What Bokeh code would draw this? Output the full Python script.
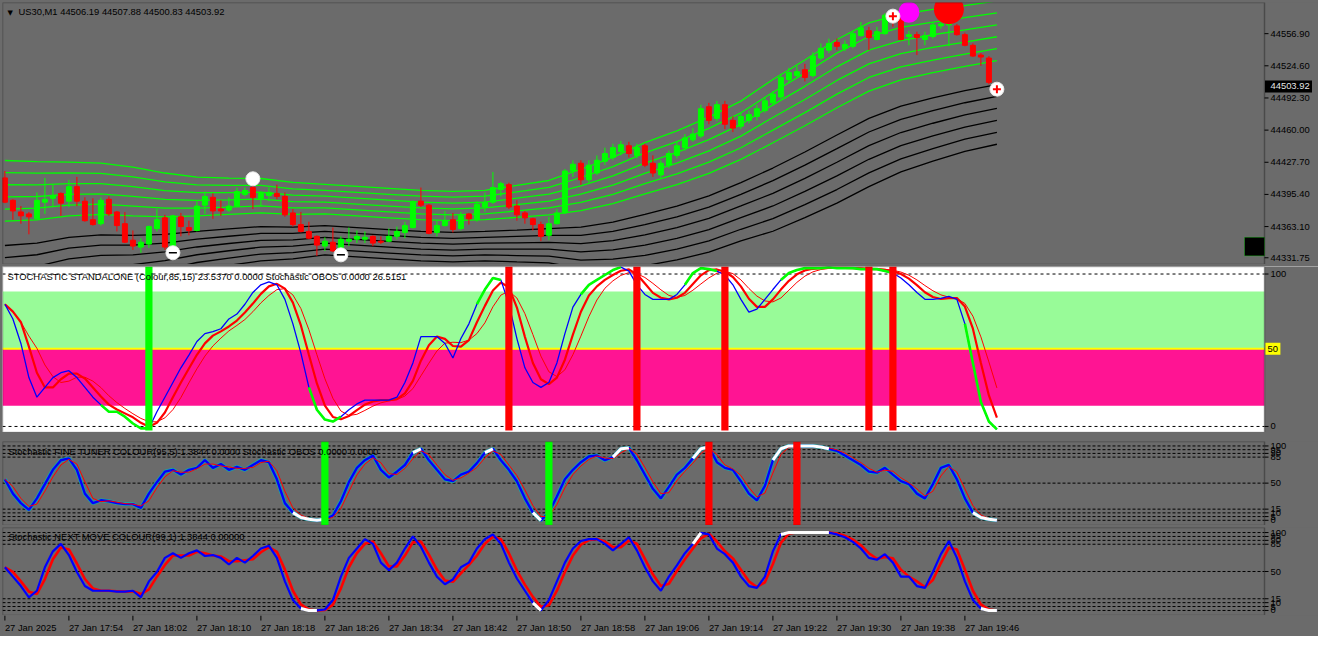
import numpy as np
from bokeh.plotting import figure
from bokeh.layouts import column
from bokeh.models import Range1d, Label, BoxAnnotation
from bokeh.core.properties import value
from bokeh.embed import file_html
from bokeh.resources import INLINE

# ---------------- data ----------------
open_p = [44412.0, 44389.5, 44377.8, 44375.8, 44370.9, 44387.6, 44391.5, 44396.4, 44388.6, 44403.2,
          44388.6, 44370.0, 44366.0, 44390.5, 44377.8, 44366.0, 44349.4, 44342.5, 44345.5, 44361.1,
          44371.9, 44343.5, 44372.9, 44362.1, 44359.2, 44384.6, 44392.5, 44380.7, 44379.7, 44383.7,
          44395.4, 44402.3, 44391.5, 44394.4, 44396.4, 44393.4, 44376.8, 44365.1, 44358.2, 44353.3,
          44343.5, 44347.4, 44339.6, 44348.4, 44350.4, 44350.4, 44353.3, 44348.4, 44348.4, 44353.3,
          44357.2, 44362.1, 44388.6, 44384.6, 44357.2, 44364.1, 44370.0, 44361.1, 44375.8, 44370.0,
          44382.7, 44387.6, 44400.3, 44405.2, 44383.7, 44376.8, 44370.9, 44365.1, 44354.3, 44366.0,
          44376.8, 44418.9, 44426.7, 44410.1, 44416.9, 44428.7, 44432.6, 44438.5, 44444.3, 44434.6,
          44444.3, 44426.7, 44415.0, 44424.8, 44434.6, 44442.4, 44450.2, 44454.1, 44483.5, 44471.8,
          44485.5, 44469.8, 44463.9, 44469.8, 44473.7, 44479.6, 44487.4, 44493.3, 44510.9, 44514.8,
          44520.7, 44514.8, 44532.4, 44540.3, 44548.1, 44542.2, 44544.2, 44554.9, 44559.8, 44551.0,
          44556.9, 44573.5, 44572.6, 44554.0, 44555.9, 44551.0, 44554.0, 44564.7, 44565.7, 44564.7,
          44555.9, 44545.2, 44535.4, 44532.4, 44506.19]
close_p = [44387.6, 44378.8, 44373.9, 44372.9, 44389.5, 44390.5, 44394.4, 44386.6, 44403.2, 44388.6,
           44369.0, 44365.1, 44389.5, 44375.8, 44364.1, 44347.4, 44343.5, 44347.4, 44363.1, 44370.0,
           44342.5, 44373.9, 44363.1, 44359.2, 44383.7, 44393.4, 44378.8, 44378.8, 44383.7, 44398.3,
           44399.3, 44392.5, 44396.4, 44397.4, 44393.4, 44374.9, 44365.1, 44358.2, 44351.4, 44344.5,
           44348.4, 44338.6, 44350.4, 44350.4, 44353.3, 44352.3, 44346.5, 44347.4, 44353.3, 44358.2,
           44364.1, 44387.6, 44384.6, 44356.3, 44364.1, 44369.0, 44360.2, 44373.9, 44370.9, 44385.6,
           44387.6, 44402.3, 44406.2, 44382.7, 44374.9, 44371.9, 44365.1, 44353.3, 44366.0, 44376.8,
           44418.9, 44425.7, 44410.1, 44424.8, 44429.7, 44436.5, 44442.4, 44445.3, 44436.5, 44442.4,
           44424.8, 44416.9, 44426.7, 44436.5, 44444.3, 44452.2, 44456.1, 44481.5, 44469.8, 44485.5,
           44465.9, 44462.0, 44473.7, 44475.7, 44481.5, 44489.4, 44496.2, 44512.9, 44517.8, 44518.7,
           44512.9, 44534.4, 44542.2, 44547.1, 44544.2, 44546.1, 44556.9, 44562.8, 44553.0, 44558.9,
           44575.5, 44571.6, 44551.0, 44555.9, 44553.0, 44554.9, 44565.7, 44566.7, 44567.7, 44555.9,
           44545.2, 44534.4, 44533.4, 44508.0, 44503.92]
high_p = [44418.9, 44390.5, 44383.7, 44377.8, 44397.4, 44412.0, 44405.2, 44397.4, 44410.1, 44413.0,
          44392.5, 44391.5, 44392.5, 44393.4, 44378.8, 44377.8, 44359.2, 44351.4, 44364.1, 44380.7,
          44374.9, 44374.9, 44376.8, 44369.0, 44388.6, 44398.3, 44396.4, 44389.5, 44392.5, 44402.3,
          44402.3, 44410.1, 44398.3, 44402.3, 44405.2, 44397.4, 44380.7, 44377.8, 44368.0, 44354.3,
          44352.3, 44362.1, 44353.3, 44362.1, 44359.2, 44358.2, 44354.3, 44353.3, 44361.1, 44363.1,
          44368.0, 44389.5, 44402.3, 44385.6, 44369.0, 44378.8, 44376.8, 44377.8, 44376.8, 44388.6,
          44397.4, 44417.9, 44408.1, 44407.2, 44389.5, 44378.8, 44371.9, 44368.0, 44372.9, 44380.7,
          44420.9, 44429.7, 44429.7, 44429.7, 44434.6, 44442.4, 44446.3, 44449.2, 44448.3, 44446.3,
          44446.3, 44434.6, 44429.7, 44439.4, 44448.3, 44456.1, 44462.0, 44485.5, 44487.4, 44489.4,
          44489.4, 44473.7, 44477.6, 44479.6, 44485.5, 44493.3, 44499.2, 44516.8, 44522.6, 44524.6,
          44526.6, 44538.3, 44547.1, 44552.0, 44552.0, 44550.1, 44559.8, 44568.6, 44563.8, 44563.8,
          44577.5, 44576.5, 44578.4, 44559.8, 44558.9, 44558.9, 44568.6, 44571.6, 44569.6, 44566.7,
          44557.9, 44547.1, 44537.3, 44534.4, 44507.88]
low_p = [44386.6, 44370.0, 44366.0, 44355.3, 44370.0, 44375.8, 44383.7, 44373.9, 44382.7, 44383.7,
         44368.0, 44364.1, 44364.1, 44373.9, 44358.2, 44346.5, 44339.6, 44336.7, 44341.6, 44358.2,
         44339.6, 44336.7, 44353.3, 44354.3, 44358.2, 44375.8, 44370.9, 44373.9, 44377.8, 44382.7,
         44393.4, 44380.7, 44383.7, 44388.6, 44390.5, 44372.9, 44363.1, 44357.2, 44350.4, 44333.7,
         44338.6, 44337.7, 44334.7, 44343.5, 44346.5, 44346.5, 44343.5, 44345.5, 44347.4, 44350.4,
         44351.4, 44361.1, 44382.7, 44355.3, 44353.3, 44363.1, 44357.2, 44359.2, 44365.1, 44368.0,
         44377.8, 44385.6, 44393.4, 44380.7, 44369.0, 44366.0, 44359.2, 44348.4, 44349.4, 44365.1,
         44375.8, 44413.0, 44405.2, 44407.2, 44415.0, 44424.8, 44429.7, 44434.6, 44432.6, 44431.6,
         44422.8, 44413.0, 44411.1, 44421.8, 44431.6, 44439.4, 44448.3, 44452.2, 44465.9, 44468.8,
         44461.0, 44458.0, 44461.0, 44466.9, 44469.8, 44477.6, 44484.5, 44491.3, 44508.0, 44512.9,
         44508.9, 44512.9, 44530.5, 44537.3, 44540.3, 44539.3, 44542.2, 44554.0, 44540.3, 44550.1,
         44555.9, 44563.8, 44550.1, 44545.2, 44535.4, 44545.2, 44552.0, 44561.8, 44544.2, 44554.9,
         44544.2, 44533.4, 44524.6, 44506.0, 44500.83]

# envelope bands (centre and step, every 4th bar)
band_idx = list(range(0, 125, 4))
band_mid = [44356.3, 44358.2, 44363.1, 44365.1, 44364.1, 44364.1, 44366.0, 44368.0, 44370.0, 44369.0,
            44370.0, 44368.0, 44366.0, 44364.1, 44363.1, 44364.1, 44366.0, 44368.0, 44370.9, 44376.8,
            44385.6, 44394.4, 44405.2, 44418.9, 44434.6, 44451.2, 44468.8, 44485.5, 44497.2, 44505.0,
            44511.9, 44517.8]
band_step = [12.2, 11.7, 10.8, 10.3, 9.8, 8.8, 7.8, 7.3, 6.9, 6.4, 5.9, 5.9, 5.9, 5.9, 5.9, 5.9,
             6.4, 6.9, 8.3, 9.3, 10.3, 10.8, 11.3, 11.7, 12.7, 13.2, 13.7, 13.7, 13.2, 12.7, 12.2, 12.0]

# signal markers on the price chart
dot_up_idx = [21, 42]
dot_up_price = [44336.8, 44334.7]
dot_dn_idx = [31]
dot_dn_price = [44411.1]
cross_idx = [111, 124]
cross_price = [44574.5, 44501.1]
magenta_idx = [113]
magenta_price = [44578.4]
reddot_idx = [118]
reddot_price = [44581.4]

price_ticks = [44331.75, 44363.10, 44395.40, 44427.70, 44460.00, 44492.30, 44524.60, 44556.90]
last_price = 44503.92

# stochastic standalone (85,15)
stoch1 = [77.2, 68.2, 53.2, 32.3, 20.3, 26.3, 32.3, 35.3, 36.5, 32.3,
          26.3, 20.3, 15.6, 11.4, 11.4, 8.4, 4.2, 1.2, 1.2, 11.4,
          20.3, 29.3, 38.3, 46.1, 54.4, 59.2, 60.4, 62.2, 68.2, 71.2,
          77.2, 84.4, 89.1, 90.9, 89.1, 80.2, 65.2, 47.3, 26.3, 12.6,
          6.6, 5.4, 8.4, 12.6, 16.2, 18.5, 18.5, 18.5, 18.5, 20.3,
          29.3, 41.3, 57.4, 57.4, 57.4, 53.2, 44.3, 56.2, 65.2, 77.2,
          86.2, 93.3, 92.1, 77.2, 56.2, 38.3, 29.3, 26.3, 29.3, 41.3,
          59.2, 75.4, 83.2, 89.1, 92.1, 95.1, 98.1, 99.9, 97.5, 89.1,
          83.2, 80.2, 80.2, 80.2, 83.2, 89.1, 96.3, 99.3, 98.7, 97.5,
          95.1, 89.1, 80.2, 72.4, 74.2, 80.2, 86.2, 92.1, 96.3, 98.1,
          99.3, 99.3, 99.3, 99.9, 99.3, 99.3, 99.3, 98.7, 98.7, 98.7,
          97.5, 96.3, 93.3, 89.1, 84.4, 80.2, 80.2, 80.8, 82.0, 80.2,
          65.2, 41.3, 17.4, 5.4, 0.6]
stoch1_green_ranges = [(12, 18), (38, 42), (59, 62), (72, 77), (85, 89), (97, 111), (120, 124)]
p1_buy_bars = [18]
p1_sell_bars = [63, 79, 90, 108, 111]
p1_dash_levels = [95.7, 2.4]
p1_dash_labels = ["100", "0"]
p1_mid_level = 50

# fine tuner colour (95,5)
stoch2 = [55.1, 35.9, 23.1, 14.1, 29.5, 48.7, 67.9, 80.8, 83.3, 67.9,
          35.9, 23.1, 26.9, 25.6, 23.1, 21.8, 21.8, 16.7, 35.9, 51.3,
          65.4, 67.9, 61.5, 67.9, 70.5, 80.8, 70.5, 75.6, 67.9, 71.8,
          67.9, 74.4, 80.8, 78.2, 55.1, 23.1, 10.3, 3.8, 1.3, 0.0,
          1.3, 6.4, 25.6, 51.3, 70.5, 80.8, 87.2, 67.9, 57.7, 65.4,
          74.4, 91.0, 96.2, 80.8, 67.9, 55.1, 52.6, 61.5, 65.4, 76.9,
          91.0, 96.2, 80.8, 67.9, 52.6, 29.5, 10.3, 0.0, 10.3, 32.1,
          55.1, 67.9, 78.2, 85.9, 87.2, 80.8, 85.0, 96.2, 97.4, 80.8,
          61.5, 42.3, 29.5, 44.9, 61.5, 70.5, 83.3, 96.2, 98.7, 78.2,
          70.5, 67.9, 52.6, 35.9, 26.9, 46.2, 80.8, 96.2, 100.0, 100.0,
          100.0, 100.0, 98.7, 96.2, 93.6, 87.2, 80.8, 74.4, 65.4, 64.1,
          70.5, 61.5, 52.6, 48.7, 35.9, 29.5, 48.7, 70.5, 74.4, 55.1,
          29.5, 10.3, 3.8, 1.3, 0.0]
p2_buy_bars = [40, 68]
p2_sell_bars = [88, 99]

# next move colour (99,1)
stoch3 = [55.4, 43.4, 31.3, 16.9, 25.3, 55.4, 75.9, 85.5, 71.1, 49.4,
          31.3, 25.3, 25.3, 25.3, 24.1, 24.1, 25.3, 16.9, 37.3, 49.4,
          67.5, 73.5, 67.5, 73.5, 77.1, 69.9, 71.1, 67.5, 59.0, 67.5,
          61.4, 69.9, 79.5, 83.1, 67.5, 37.3, 13.3, 2.4, 0.0, 0.0,
          1.2, 13.3, 43.4, 67.5, 79.5, 91.6, 85.5, 61.4, 51.8, 61.4,
          79.5, 95.2, 81.9, 61.4, 43.4, 33.7, 39.8, 55.4, 61.4, 79.5,
          91.6, 97.6, 85.5, 61.4, 41.0, 25.3, 9.6, 0.0, 13.3, 37.3,
          61.4, 79.5, 89.2, 91.6, 91.6, 85.5, 77.1, 85.5, 94.0, 77.1,
          55.4, 37.3, 25.3, 43.4, 57.8, 73.5, 85.5, 99.5, 97.6, 79.5,
          72.3, 61.4, 43.4, 31.3, 28.9, 43.4, 75.9, 97.6, 100.0, 100.0,
          100.0, 100.0, 100.0, 100.0, 97.6, 94.0, 88.0, 79.5, 67.5, 65.1,
          72.3, 61.4, 43.4, 43.4, 31.3, 28.9, 49.4, 72.3, 89.2, 67.5,
          37.3, 13.3, 2.4, 0.0, 0.0]
stoch_levels = [100, 95, 90, 85, 50, 15, 10, 5, 0]
stoch_level_labels = ["100", "95", "90", "85", "50", "15", "10", "5", "0"]

time_tick_idx = list(range(0, 121, 8))
time_labels = ["27 Jan 2025", "27 Jan 17:54", "27 Jan 18:02", "27 Jan 18:10", "27 Jan 18:18",
               "27 Jan 18:26", "27 Jan 18:34", "27 Jan 18:42", "27 Jan 18:50", "27 Jan 18:58",
               "27 Jan 19:06", "27 Jan 19:14", "27 Jan 19:22", "27 Jan 19:30", "27 Jan 19:38",
               "27 Jan 19:46"]

title_main = "US30,M1  44506.19 44507.88 44500.83 44503.92"
title_p1 = "STOCHASTIC STANDALONE (Colour,85,15) 23.5370 0.0000  Stochastic OBOS 0.0000 26.5151"
title_p2 = "Stochastic FINE TUNER COLOUR(95,5) 1.3844 0.0000  Stochastic OBOS 0.0000 0.0000"
title_p3 = "Stochastic NEXT MOVE COLOUR(99,1) 1.3844 0.00000"

# ---------------- styling / geometry ----------------
GRAY = "#6b6b6b"
FONT = "Liberation Sans"
FS = "9.4px"
PXC = 8.0                     # pixels per bar
FW_ALL = 1316                 # frame incl. price-scale strip
FW = 1262                     # chart area
X0 = -0.3
AX = X0 + FW / PXC            # right edge of chart area (price scale line)
XR = X0 + FW_ALL / PXC
LIME = "#00ff00"
RED = "#ff0000"

o = np.array(open_p); c = np.array(close_p); h = np.array(high_p); l = np.array(low_p)
idx = np.arange(len(c))


def sma(a, n):
    a = np.asarray(a, dtype=float)
    out = np.empty_like(a)
    for i in range(len(a)):
        out[i] = a[max(0, i - n + 1):i + 1].mean()
    return out


def make_fig(fh, yr, bg=GRAY, top=2):
    p = figure(frame_width=FW_ALL, frame_height=fh, x_range=Range1d(X0, XR), y_range=Range1d(*yr),
               x_axis_location=None, y_axis_location=None,
               toolbar_location=None, output_backend="svg",
               background_fill_color=bg, border_fill_color=GRAY, outline_line_color=None,
               min_border_left=2, min_border_right=0, min_border_top=top, min_border_bottom=0)
    p.grid.visible = False
    return p


def finish(p, yr, ticks=None, labels=None, chart_bottom=None):
    # price-scale strip to the right of the chart area
    p.quad(left=[AX], right=[XR], bottom=[yr[0]], top=[yr[1]], fill_color=GRAY, line_color=None)
    cb = yr[0] if chart_bottom is None else chart_bottom
    if chart_bottom is not None:
        p.quad(left=[X0], right=[AX], bottom=[yr[0]], top=[cb], fill_color=GRAY, line_color=None)
    p.add_layout(BoxAnnotation(left=X0, right=AX, bottom=cb, top=yr[1], fill_alpha=0,
                               line_color="#000000", line_width=1.5))
    if ticks:
        p.segment(x0=[AX] * len(ticks), y0=ticks, x1=[AX + 4 / PXC] * len(ticks), y1=ticks,
                  line_color="#000000", line_width=1)
        p.text(x=[AX + 6 / PXC] * len(ticks), y=ticks, text=labels, text_font=value(FONT),
               text_font_size=value(FS), text_color="#000000", text_align="left",
               text_baseline="middle")


def title(p, text, y, x_off, y_off=-3):
    p.add_layout(Label(x=X0, y=y, x_offset=x_off, y_offset=y_off, text=text, text_font=FONT,
                       text_font_size=FS, text_color="#000000", text_baseline="top"))


def level_lines(p, levels, dash):
    n = len(levels)
    p.segment(x0=[X0] * n, y0=levels, x1=[AX] * n, y1=levels, line_color="#000000",
              line_width=1, line_dash=dash)


def white_extremes(v, hi, lo):
    v = np.asarray(v, dtype=float)
    m = (v >= hi) | (v <= lo)
    m2 = m.copy()
    m2[:-1] |= m[1:]
    return np.where(m2, v, np.nan)


# ---------------- main price chart ----------------
YM = (44325.0, 44588.2)
pm = make_fig(262, YM, top=2)

bi = np.array(band_idx); bm = np.array(band_mid); bs = np.array(band_step)
for k in range(1, 7):
    pm.line(bi, bm + k * bs, line_color=LIME, line_width=1.3)
    pm.line(bi, bm - k * bs, line_color="#000000", line_width=1.3)

up = c >= o
col = np.where(up, LIME, RED)
pm.segment(x0=idx, y0=h, x1=idx, y1=l, line_color=col, line_width=1)
body_top = np.maximum(o, c)
body_bot = np.minimum(o, c)
body_bot = np.where(body_top - body_bot < 1.0, body_top - 1.0, body_bot)
pm.vbar(x=idx, top=body_top, bottom=body_bot, width=0.62, fill_color=col, line_color=col)

pm.scatter(magenta_idx, magenta_price, size=21, fill_color="#ff00ff", line_color=None)
pm.scatter(reddot_idx, reddot_price, size=30, fill_color=RED, line_color=None)
pm.scatter(dot_up_idx + dot_dn_idx, dot_up_price + dot_dn_price, size=14,
           fill_color="#ffffff", line_color="#e8e8e8")
pm.scatter(dot_up_idx, dot_up_price, marker="dash", size=8, line_color="#000000", line_width=1.5)
pm.scatter(cross_idx, cross_price, size=14, fill_color="#ffffff", line_color="#e8e8e8")
pm.scatter(cross_idx, cross_price, marker="cross", size=8, line_color=RED, line_width=2)

pm.add_layout(BoxAnnotation(left=AX - 2.5, right=AX, bottom=44333.7, top=44352.3,
                            fill_color="#000000", fill_alpha=1, line_color=LIME, line_width=1))
finish(pm, YM, price_ticks, ["%.2f" % t for t in price_ticks])
pm.rect(x=[AX + 3.0], y=[last_price], width=47, height=12, width_units="screen",
        height_units="screen", fill_color="#000000", line_color=None)
pm.text(x=[AX + 6 / PXC], y=[last_price], text=["%.2f" % last_price], text_font=value(FONT),
        text_font_size=value(FS), text_color="#e6e6e6", text_align="left", text_baseline="middle")
pm.add_layout(Label(x=X0, y=YM[1], x_offset=5, y_offset=-6, text="\u25bc", text_font="DejaVu Sans",
                    text_font_size="7px", text_color="#000000", text_baseline="top"))
title(pm, title_main, YM[1], 16)

# ---------------- panel 1: stochastic standalone ----------------
Y1 = (-1.3, 100.3)
p1 = make_fig(166, Y1, bg="#ffffff", top=2)
p1.add_layout(BoxAnnotation(right=AX, bottom=50, top=85, fill_color="#98fb98", fill_alpha=1,
                            line_color=None, level="underlay"))
p1.add_layout(BoxAnnotation(right=AX, bottom=15, top=50, fill_color="#ff1493", fill_alpha=1,
                            line_color=None, level="underlay"))
p1.segment(x0=[X0], y0=[p1_mid_level], x1=[AX + 0.3], y1=[p1_mid_level], line_color="#ffff00",
           line_width=2)
level_lines(p1, p1_dash_levels, "3 3")

s1 = np.array(stoch1)
p1.line(idx, sma(s1, 3), line_color=RED, line_width=2.2)
p1.line(idx, sma(s1, 5), line_color=RED, line_width=1)
p1.line(idx, s1, line_color="#0000ff", line_width=1.3)
gxs = [list(idx[a:b + 1]) for a, b in stoch1_green_ranges]
gys = [list(s1[a:b + 1]) for a, b in stoch1_green_ranges]
p1.multi_line(gxs, gys, line_color=LIME, line_width=2.6)
p1.vbar(x=p1_buy_bars, top=Y1[1], bottom=0.0, width=0.9, fill_color=LIME, line_color=None)
p1.vbar(x=p1_sell_bars, top=Y1[1], bottom=0.0, width=0.9, fill_color=RED, line_color=None)
finish(p1, Y1, p1_dash_levels, p1_dash_labels)
p1.rect(x=[AX + 1.05], y=[p1_mid_level], width=15, height=12, width_units="screen",
        height_units="screen", fill_color="#ffff00", line_color=None)
p1.text(x=[AX + 3 / PXC], y=[p1_mid_level], text=["50"], text_font=value(FONT),
        text_font_size=value(FS), text_color="#000000", text_align="left", text_baseline="middle")
title(p1, title_p1, Y1[1], 5, -4)

# ---------------- empty separator panel ----------------
YG = (0, 1)
pg = make_fig(5, YG, top=2)
finish(pg, YG)

# ---------------- panel 2: fine tuner ----------------
Y2 = (-7.0, 106.0)
p2 = make_fig(84, Y2, top=2)
level_lines(p2, stoch_levels, "3 2")
s2 = np.array(stoch2)
p2.line(idx, s2, line_color="#1aa3a3", line_width=4)
p2.line(idx, s2, line_color="#0000ff", line_width=2.4)
p2.line(idx, sma(s2, 2), line_color=RED, line_width=1)
p2.line(idx, white_extremes(s2, 95, 5), line_color="#ffffff", line_width=3)
p2.vbar(x=p2_buy_bars, top=Y2[1], bottom=Y2[0], width=0.9, fill_color=LIME, line_color=None)
p2.vbar(x=p2_sell_bars, top=Y2[1], bottom=Y2[0], width=0.9, fill_color=RED, line_color=None)
finish(p2, Y2, stoch_levels, stoch_level_labels)
title(p2, title_p2, Y2[1], 6, -4)

# ---------------- panel 3: next move ----------------
Y3 = (-6.5, 106.5)
p3 = make_fig(88, Y3, top=2)
level_lines(p3, stoch_levels, "3 2")
s3 = np.array(stoch3)
p3.line(idx, sma(s3, 2), line_color=RED, line_width=2.6)
p3.line(idx, s3, line_color="#0000ff", line_width=2.2)
p3.line(idx, white_extremes(s3, 99, 1), line_color="#ffffff", line_width=3)
finish(p3, Y3, stoch_levels, stoch_level_labels)
title(p3, title_p3, Y3[1], 6, -3)

# ---------------- time scale strip ----------------
YT = (0, 21)
pt = make_fig(21, YT, top=0)
nt = len(time_tick_idx)
pt.segment(x0=time_tick_idx, y0=[YT[1]] * nt, x1=time_tick_idx, y1=[YT[1] - 5] * nt,
           line_color="#000000", line_width=1)
pt.text(x=time_tick_idx, y=[YT[1] - 6] * nt, text=time_labels, text_font=value(FONT),
        text_font_size=value(FS), text_color="#000000", text_align="left", text_baseline="top")

layout = column(pm, p1, pg, p2, p3, pt, spacing=0, styles={"background-color": GRAY})

html = file_html(layout, INLINE, title="US30,M1")
open("out.html", "w").write(html)
